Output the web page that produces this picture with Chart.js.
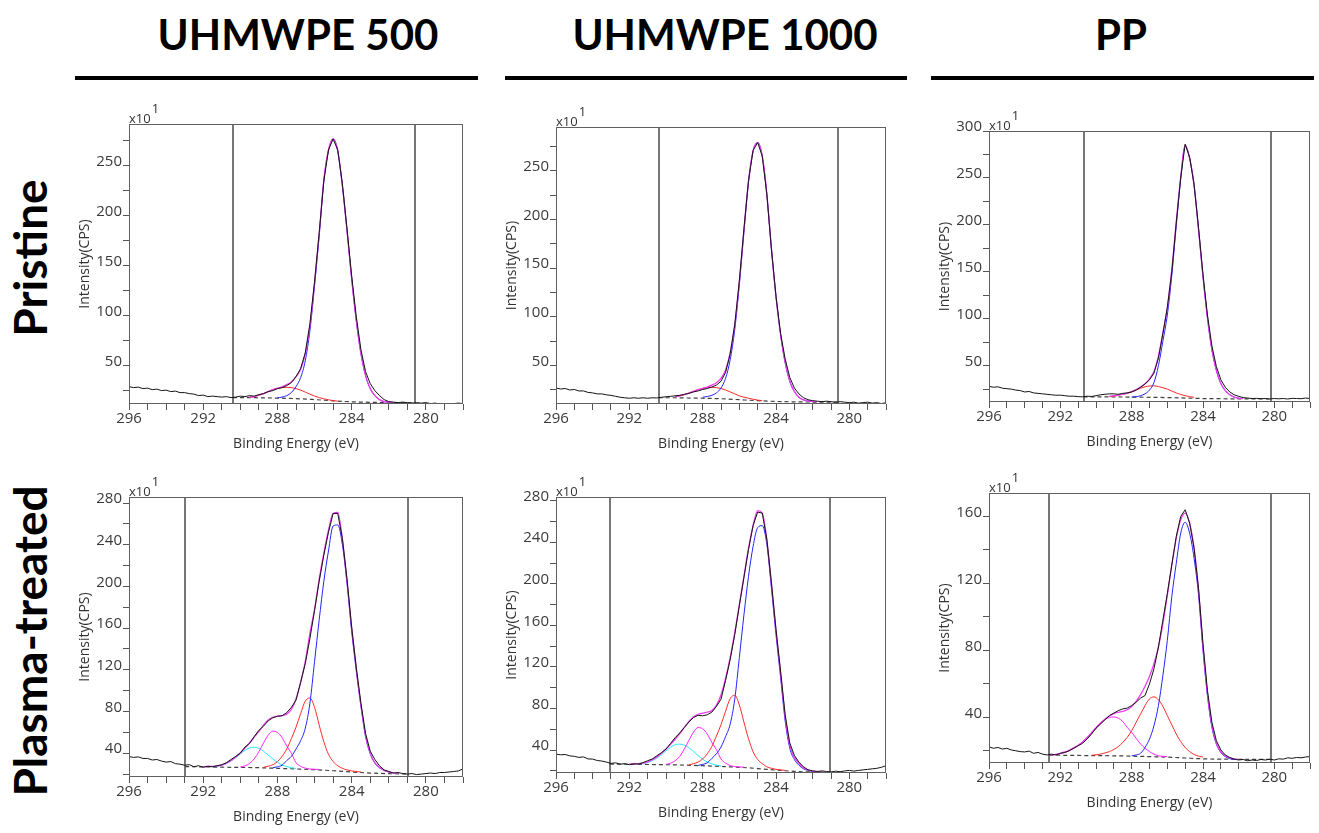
<!DOCTYPE html>
<html>
<head>
<meta charset="utf-8">
<title>XPS C1s spectra</title>
<script src="https://cdn.jsdelivr.net/npm/chart.js@4.4.1/dist/chart.umd.min.js"></script>
<style>
  body { margin: 0; background: #fff; width: 1319px; height: 833px; position: relative; overflow: hidden; }
  .head { position: absolute; top: 13px; font-family: Lato, sans-serif; font-weight: 700; font-size: 42px;
          line-height: 42px; color: #000; transform: translateX(-50%); white-space: nowrap; }
  .rule { position: absolute; top: 76px; height: 4px; background: #000; }
  .side { position: absolute; left: 30px; font-family: Lato, sans-serif; font-weight: 700; font-size: 46px;
          line-height: 46px; color: #000; transform: translate(-50%, -50%) rotate(-90deg); white-space: nowrap; }
  canvas { position: absolute; }
</style>
</head>
<body>
<div class="head" style="left:298px">UHMWPE 500</div>
<div class="head" style="left:725px">UHMWPE 1000</div>
<div class="head" style="left:1121px">PP</div>
<div class="rule" style="left:75px;width:403px"></div>
<div class="rule" style="left:505px;width:402px"></div>
<div class="rule" style="left:931px;width:383px"></div>
<div class="side" style="top:258px">Pristine</div>
<div class="side" style="top:641px">Plasma-treated</div>

<script>
const _ = null;

// binding energy grids (eV)
const energyRaw = [296, 295.75, 295.5, 295.25, 295, 294.75, 294.5, 294.25, 294, 293.75, 293.5, 293.25,
  293, 292.75, 292.5, 292.25, 292, 291.75, 291.5, 291.25, 291, 290.75, 290.5, 290.25,
  290, 289.75, 289.5, 289.25, 289, 288.75, 288.5, 288.25, 288, 287.75, 287.5, 287.25,
  287, 286.75, 286.5, 286.25, 286, 285.75, 285.5, 285.25, 285, 284.75, 284.5, 284.25,
  284, 283.75, 283.5, 283.25, 283, 282.75, 282.5, 282.25, 282, 281.75, 281.5, 281.25,
  281, 280.75, 280.5, 280.25, 280, 279.75, 279.5, 279.25, 279, 278.75, 278.5, 278.25, 278];
const energyFit = [293, 292.75, 292.5, 292.25, 292, 291.75, 291.5, 291.25, 291, 290.75, 290.5, 290.25,
  290, 289.75, 289.5, 289.25, 289, 288.75, 288.5, 288.25, 288, 287.75, 287.5, 287.25,
  287, 286.75, 286.5, 286.25, 286, 285.75, 285.5, 285.25, 285, 284.75, 284.5, 284.25,
  284, 283.75, 283.5, 283.25, 283, 282.75, 282.5, 282.25, 282, 281.75, 281.5, 281.25, 281];
const xTickLabels = [296, 292, 288, 284, 280];

// ---- UHMWPE 500, pristine (counts x10) ----
const raw1 = [29, 28, 28.5, 27, 27.5, 26, 26.5, 25, 25.5, 24, 24.5, 23,
  23, 22, 21.5, 20, 20.5, 19, 19.5, 19, 18.5, 19, 18, 18.5,
  19.5, 19, 20, 19.5, 21, 22, 24, 25, 27, 28, 30, 33,
  39, 47, 63, 92, 134, 183, 235, 266, 277, 266, 232, 187,
  140, 99, 66, 44, 32, 25, 20, 16, 14, 13.5, 13, 13.5,
  13, 12.5, 13, 12.5, 13, 12, 12.5, 11.5, 12, 11, 12, 12.5, 12];
const env1 = [_, _, _, _, _, _, _, _, _, _, _, _,
  _, _, 18.5, 19, 20.5, 22, 24, 26, 27.4, 28.7, 31, 33.7,
  39, 46.5, 62, 90, 133, 182, 236, 266, 277, 265, 230, 185,
  137, 95, 62, 40, 27, 20, 16, 14, 13.5, 13.2, _, _, _];
const blue1 = [_, _, _, _, _, _, _, _, _, _, _, _,
  _, _, _, _, _, _, _, _, 17.8, 18.5, 20, 23,
  29, 38, 55, 85, 130, 180, 235, 265, 277, 265, 230, 185,
  137, 95, 62, 40, 27, 20, 16, 14, 13.5, _, _, _, _];
const red1 = [_, _, _, _, _, _, _, _, _, _, _, _,
  _, _, 18.5, 19, 20.5, 22, 24, 25.8, 27.2, 28, 28.3, 28,
  27, 25.5, 23.5, 21.5, 19.5, 18, 16.8, 15.8, 15, 14.5, _, _,
  _, _, _, _, _, _, _, _, _, _, _, _, _];
const bgEnergy1 = [290.4, 289.5, 289, 288, 287, 286, 285, 284, 283, 282, 280.6];
const bg1 = [18, 18, 17.8, 17.5, 17, 16, 14.8, 13.8, 13.3, 13, 12.8];
const fit1 = [290.4, 280.6];

// ---- UHMWPE 1000, pristine ----
const raw2 = [27, 26, 26.5, 25, 25.5, 24, 24, 22.5, 22, 21, 21, 20,
  19.5, 18.5, 17.5, 17, 16.5, 17, 16.5, 17, 16.5, 17, 16.8, 17.5,
  18, 18.5, 19, 19.5, 20.5, 21.5, 23, 24, 25.5, 26.5, 28, 30,
  34, 43, 62, 92, 137, 190, 240, 271, 279, 265, 226, 170,
  121, 83, 57, 38, 27, 21, 17, 15, 14, 13.5, 13, 13.5,
  13, 12.5, 13, 12.5, 12, 12.5, 11.5, 12, 12.5, 11.5, 12, 11, 12];
const env2 = [_, _, _, _, _, _, _, _, _, _, _, _,
  _, _, 18.3, 18.9, 20.3, 21.8, 23.6, 25.3, 26.7, 28, 30, 32.5,
  37, 45.5, 63, 92, 136, 189, 239.5, 270.5, 279, 265, 226, 170,
  121, 82, 53, 34, 23.5, 17.5, 14.8, 13.7, 13.3, 13, _, _, _];
const blue2 = [_, _, _, _, _, _, _, _, _, _, _, _,
  _, _, _, _, _, _, _, _, 17.5, 18.3, 19.5, 22,
  27, 37, 56, 87, 133, 187, 238, 270, 279, 265, 226, 170,
  121, 82, 53, 34, 23.5, 17.5, 14.8, 13.7, 13.3, _, _, _, _];
const red2 = [_, _, _, _, _, _, _, _, _, _, _, _,
  _, _, 18.3, 18.9, 20.3, 21.8, 23.6, 25.3, 26.7, 27.4, 27.7, 27.4,
  26.5, 25, 23, 21, 19, 17.6, 16.5, 15.5, 14.6, 14, _, _,
  _, _, _, _, _, _, _, _, _, _, _, _, _];
const bgEnergy2 = [290.4, 289.5, 289, 288, 287, 286, 285, 284, 283, 282, 280.6];
const bg2 = [17, 17, 16.8, 16.5, 16, 15, 14, 13.2, 12.8, 12.6, 12.5];
const fit2 = [290.4, 280.6];

// ---- PP, pristine ----
const raw3 = [28, 27, 27.5, 26, 25.5, 25, 24, 23.5, 22, 22.5, 21, 20.5,
  20, 19.5, 19, 18.5, 18.6, 18, 17.5, 17.5, 17, 16.8, 17.5, 17.2,
  18, 19, 19.5, 20, 20, 19.5, 20.5, 21, 22, 24, 27, 30.5,
  35, 42, 58, 84, 112, 150, 202, 250, 286, 272, 243, 197,
  147, 104, 71, 49, 35, 27, 22, 19, 17.3, 16, 15.5, 15,
  15.2, 14.8, 15, 14.5, 15, 14.7, 15, 14.5, 15.2, 15, 14.8, 15.5, 15];
const env3 = [_, _, _, _, _, _, _, _, _, _, _, _,
  _, _, _, 17.5, 18, 18.8, 19.7, 20.7, 22.3, 24.6, 27.3, 30.7,
  36, 43.8, 60, 85, 112, 152, 203, 251, 285, 271, 242, 195,
  145, 101, 67, 45, 31, 23.5, 19, 16.5, 15.5, 15, _, _, _];
const blue3 = [_, _, _, _, _, _, _, _, _, _, _, _,
  _, _, _, _, _, _, _, _, 16.5, 17, 18, 20,
  24, 32, 50, 76, 104, 146, 199, 249, 284, 271, 242, 195,
  145, 101, 67, 45, 31, 23.5, 19, 16.5, 15.5, _, _, _, _];
const red3 = [_, _, _, _, _, _, _, _, _, _, _, _,
  _, _, _, 17, 17.5, 18.5, 19.5, 20.5, 22, 24, 26, 27.5,
  28.4, 28.5, 27.8, 26.5, 25, 23, 21, 19.3, 18, 17, 16.3, _,
  _, _, _, _, _, _, _, _, _, _, _, _, _];
const bgEnergy3 = [290.7, 290, 289, 288, 287, 286, 285, 284, 283, 282, 280.2];
const bg3 = [16.8, 16.8, 16.7, 16.5, 16.3, 16, 15.5, 15, 14.8, 14.6, 14.5];
const fit3 = [290.7, 280.2];

// ---- UHMWPE 500, plasma-treated ----
const raw4 = [36.8, 36, 36.5, 35, 35, 33.5, 34, 32.5, 31.5, 32, 30, 29.5,
  28.5, 29, 27, 28, 26.5, 27.5, 27, 28, 29, 31, 34, 37,
  40, 46, 49.5, 56, 62, 66, 71, 74, 75.5, 76, 79, 84,
  91, 108, 126, 150, 177, 205, 230, 252, 270, 270, 246, 207,
  161, 122, 88, 59, 42, 34, 28, 24, 22.5, 21, 21.5, 20.5,
  20, 20.5, 19.5, 20, 20.5, 21, 20.5, 21.5, 21.5, 22, 22.5, 23, 25];
const env4 = [_, _, _, _, 27.2, 27.3, 27.4, 27.8, 28.6, 30.5, 33, 36.5,
  40.5, 45, 50, 55.5, 61, 67, 72, 74.5, 75.5, 76, 77.5, 82,
  92, 108, 128, 155, 178, 207, 232, 254, 270, 271, 245, 205,
  160, 121, 86, 57, 40, 31, 26.5, 23.5, 22, 21.2, 20.8, _, _];
const blue4 = [_, _, _, _, _, _, _, _, _, _, _, _,
  _, _, _, _, _, _, _, 26, 27, 28.5, 33, 37,
  44, 52, 64, 88, 128, 168, 205, 234, 258, 259, 240, 203,
  157, 119, 85, 56, 39.5, 30.5, 26, 23.5, 22, 21.3, _, _, _];
const red4 = [_, _, _, _, _, _, _, _, _, _, _, _,
  _, _, _, _, _, 26.5, 27.5, 29, 32, 37, 44, 54,
  65, 78, 90, 93, 84, 67, 51, 39, 32, 28, 25.5, 24,
  23, 22.5, 22, _, _, _, _, _, _, _, _, _, _];
const magenta4 = [_, _, _, _, _, _, _, _, _, _, _, _,
  26.8, 27.9, 30.2, 34.6, 41.5, 49.8, 57.3, 61.2, 60, 55, 47, 40,
  31, 27.4, 25.7, 24.9, 24.6, 24.4, _, _, _, _, _, _,
  _, _, _, _, _, _, _, _, _, _, _, _, _];
const cyan4 = [_, _, _, _, _, _, 27.1, 27.5, 28.5, 30.1, 32.5, 35.7,
  39.3, 42.7, 45, 45.8, 44.6, 41.9, 38.3, 34.6, 31.3, 28.8, 27.2, 26.2,
  25.4, _, _, _, _, _, _, _, _, _, _, _,
  _, _, _, _, _, _, _, _, _, _, _, _, _];
const bgEnergy4 = [292.97, 292, 291, 290, 289, 288, 287, 286, 285, 284, 283, 282, 280.96];
const bg4 = [27.2, 26.9, 26.6, 26.4, 26.1, 25.5, 24.9, 24.2, 23.2, 22, 21, 20.4, 20.2];
const fit4 = [292.97, 280.96];

// ---- UHMWPE 1000, plasma-treated ----
const raw5 = [36.2, 35.5, 35.8, 34.5, 34, 33, 33.5, 31.5, 31.4, 30, 29.5, 28.5,
  27.2, 27.8, 26.5, 27, 26, 26.8, 26.6, 28, 29.8, 31.5, 34.6, 37.5,
  41, 46.5, 52, 56.5, 61.8, 67, 71.4, 73.5, 73, 74, 76.5, 82,
  89, 107, 127, 151, 179, 206, 233, 256, 269, 268, 243, 201,
  156, 116, 74, 47, 35, 28.5, 24, 21, 20, 19.5, 20, 19.5,
  19, 19.8, 19.2, 20, 20.5, 19.8, 20.5, 21, 21.5, 22, 22.5, 23.5, 25];
const env5 = [_, _, _, _, 26.7, 26.8, 27, 27.6, 28.8, 30.8, 33.5, 37,
  41, 45.5, 50.5, 56, 61.8, 67.5, 72, 74.5, 75.5, 76.5, 78, 83,
  93, 109, 129, 153, 180, 207, 234, 256, 270.4, 268, 242, 200,
  155, 114, 72, 45, 33, 27.5, 23, 21, 19.8, 19.2, 19, _, _];
const blue5 = [_, _, _, _, _, _, _, _, _, _, _, _,
  _, _, _, _, _, _, _, 25.3, 26.3, 27.8, 32, 36.5,
  43, 53, 65, 89, 129, 170, 207, 236, 254, 256, 238, 196,
  151, 110, 68, 42, 31, 25.5, 22, 20.5, 19.4, 19, _, _, _];
const red5 = [_, _, _, _, _, _, _, _, _, _, _, _,
  _, _, _, _, _, 25.8, 27, 28.5, 31.5, 36.5, 43.5, 53.5,
  64.5, 77.5, 89.5, 92.8, 83.5, 67, 51, 38.5, 31, 27, 24, 22.5,
  21.5, 21, 20.5, _, _, _, _, _, _, _, _, _, _];
const magenta5 = [_, _, _, _, _, _, _, _, _, _, _, _,
  26.3, 27.4, 29.8, 34, 41, 49.5, 57.3, 61.7, 60.5, 55.5, 47.5, 40.5,
  31.5, 27.5, 25.2, 24.2, 23.8, 23.6, _, _, _, _, _, _,
  _, _, _, _, _, _, _, _, _, _, _, _, _];
const cyan5 = [_, _, _, _, _, _, 26.8, 27.2, 28.2, 29.8, 32.3, 35.6,
  39.3, 42.8, 45.2, 45.8, 44.8, 42.2, 38.6, 34.8, 31.3, 28.6, 26.8, 25.6,
  24.8, _, _, _, _, _, _, _, _, _, _, _,
  _, _, _, _, _, _, _, _, _, _, _, _, _];
const bgEnergy5 = [293.06, 292, 291, 290, 289, 288, 287, 286, 285, 284, 283, 282, 281.06];
const bg5 = [26.6, 26.4, 26.2, 26, 25.6, 25, 24.3, 23.5, 22.3, 20.8, 19.6, 18.9, 18.6];
const fit5 = [293.06, 281.06];

// ---- PP, plasma-treated ----
const raw6 = [22.3, 21.5, 22, 21, 21.5, 20.5, 20, 19.5, 19.3, 19.8, 18.5, 19,
  18, 17.5, 18, 17.5, 18.5, 19, 20, 21.5, 23, 24.5, 27, 30,
  33.5, 36, 38.5, 41, 42.5, 44, 45, 45.5, 47, 49, 51.5, 53,
  60, 69, 82, 98, 114, 131, 148, 160, 164, 156, 141, 117,
  84, 56, 37, 26, 20.5, 17.5, 16, 15, 14.5, 14.8, 14, 14.5,
  14.2, 14.8, 14.5, 15, 14.5, 15.2, 15, 15.8, 15.5, 16, 15.8, 16.3, 16.5];
const env6 = [_, _, 17.5, 17.8, 18.5, 19.3, 20.3, 21.8, 23.3, 25.3, 27.8, 30.6,
  33.5, 36.3, 38.8, 40.8, 42.2, 43, 43.6, 44.5, 46.5, 49.5, 53.5, 58.5,
  64.5, 72, 82, 96, 113, 131, 147, 158, 162, 156, 141, 116,
  82, 54, 35, 24.5, 19.5, 17, 15.8, 15.2, 14.9, _, _, _, _];
const blue6 = [_, _, _, _, _, _, _, _, _, _, _, _,
  _, _, _, _, _, _, _, _, 17, 17.5, 18.5, 22,
  27, 35, 47, 65, 86, 112, 132, 150, 156.5, 150, 135, 113,
  80, 53, 34, 24, 19, 16.5, 15.3, 14.8, _, _, _, _, _];
const red6 = [_, _, _, _, _, _, _, _, _, _, _, 17.3,
  17.6, 18, 18.7, 19.5, 20.8, 22.5, 25, 28, 32, 37, 42, 47,
  51, 52.2, 50.5, 46.5, 41, 35.5, 30, 25.5, 22, 19.5, 17.8, 16.8,
  16.2, _, _, _, _, _, _, _, _, _, _, _, _];
const magenta6 = [_, _, 17.5, 17.8, 18.3, 19, 20, 21.5, 23.2, 25.5, 28, 31,
  34, 36.7, 38.7, 39.9, 40.2, 39.5, 37.5, 34, 31, 27.5, 24, 21.5,
  19.5, 18, 17, 16.7, 16.5, _, _, _, _, _, _, _,
  _, _, _, _, _, _, _, _, _, _, _, _, _];
const bgEnergy6 = [292.62, 291, 290, 289, 288, 287, 286, 285, 284, 283, 282, 280.18];
const bg6 = [17.4, 17.2, 17.1, 17, 16.8, 16.5, 16.2, 15.7, 15.2, 15, 14.9, 14.8];
const fit6 = [292.62, 280.18];

const RAW = '#141414', ENVELOPE = '#f03cf0', BLUE = '#2323ff', RED = '#ff2a2a',
      MAGENTA = '#ff22ff', CYAN = '#22e8ff', BACKGROUND = '#404040';

// plot rectangle [left, top, right, bottom] in page pixels and y axis [min, max, labelled step]
const panels = [
  { rect: [129, 124, 463, 404], y: [11.6, 292, 50], raw: raw1, env: env1,
    parts: [[blue1, BLUE], [red1, RED]], bgE: bgEnergy1, bg: bg1, fit: fit1 },
  { rect: [556, 127, 886, 404], y: [10.6, 295, 50], raw: raw2, env: env2,
    parts: [[blue2, BLUE], [red2, RED]], bgE: bgEnergy2, bg: bg2, fit: fit2 },
  { rect: [989, 131, 1310, 402], y: [11.3, 300, 50], raw: raw3, env: env3,
    parts: [[blue3, BLUE], [red3, RED]], bgE: bgEnergy3, bg: bg3, fit: fit3 },
  { rect: [129, 497, 463, 777], y: [17.2, 285.8, 40], raw: raw4, env: env4,
    parts: [[blue4, BLUE], [red4, RED], [magenta4, MAGENTA], [cyan4, CYAN]], bgE: bgEnergy4, bg: bg4, fit: fit4 },
  { rect: [556, 497, 886, 773], y: [18, 283.5, 40], raw: raw5, env: env5,
    parts: [[blue5, BLUE], [red5, RED], [magenta5, MAGENTA], [cyan5, CYAN]], bgE: bgEnergy5, bg: bg5, fit: fit5 },
  { rect: [989, 493, 1310, 763], y: [12.7, 174, 40], raw: raw6, env: env6,
    parts: [[blue6, BLUE], [red6, RED], [magenta6, MAGENTA]], bgE: bgEnergy6, bg: bg6, fit: fit6 }
];

Chart.defaults.font.family = '"Open Sans", sans-serif';
Chart.defaults.font.size = 14;
Chart.defaults.color = '#333';

// fit-window markers, plot frame and the x10^1 multiplier
const panelFrame = {
  id: 'panelFrame',
  beforeDatasetsDraw(chart, args, opts) {
    const { ctx, chartArea: a, scales: { x } } = chart;
    ctx.save();
    ctx.strokeStyle = '#4a4a4a';
    ctx.lineWidth = 1.5;
    opts.fit.forEach(e => {
      const px = Math.round(x.getPixelForValue(e));
      ctx.beginPath();
      ctx.moveTo(px, a.top);
      ctx.lineTo(px, a.bottom);
      ctx.stroke();
    });
    ctx.restore();
  },
  afterDraw(chart) {
    const { ctx, chartArea: a } = chart;
    ctx.save();
    ctx.strokeStyle = '#606060';
    ctx.lineWidth = 1;
    ctx.strokeRect(a.left + 0.5, a.top + 0.5, a.right - a.left - 1, a.bottom - a.top - 1);
    ctx.fillStyle = '#333';
    ctx.textBaseline = 'alphabetic';
    ctx.font = '13px "Open Sans"';
    ctx.fillText('x10', a.left, a.top - 1);
    const w = ctx.measureText('x10').width;
    ctx.font = '13px "Open Sans"';
    ctx.fillText('1', a.left + w + 1, a.top - 11);
    ctx.restore();
  }
};

function points(energies, values) {
  return energies.map((e, i) => ({ x: e, y: values[i] }));
}

function curve(energies, values, color, width, extra) {
  return Object.assign({
    data: points(energies, values),
    borderColor: color,
    borderWidth: width,
    pointRadius: 0,
    fill: false,
    cubicInterpolationMode: 'monotone'
  }, extra || {});
}

panels.forEach(p => {
  const [L, T, R, B] = p.rect;
  const [yMin, yMax, yStep] = p.y;
  const canvas = document.createElement('canvas');
  canvas.width = R - L + 68;
  canvas.height = B - T + 86;
  canvas.style.left = (L - 60) + 'px';
  canvas.style.top = (T - 28) + 'px';
  document.body.appendChild(canvas);

  const datasets = [
    { data: points(energyRaw, p.raw), borderColor: RAW, borderWidth: 1, pointRadius: 0, fill: false, tension: 0 },
    curve(energyFit, p.env, ENVELOPE, 1.3),
    ...p.parts.map(([vals, col]) => curve(energyFit, vals, col, 1)),
    curve(p.bgE, p.bg, BACKGROUND, 1.2, { borderDash: [4, 3] })
  ];

  new Chart(canvas, {
    type: 'line',
    data: { datasets },
    plugins: [panelFrame],
    options: {
      responsive: false,
      animation: false,
      devicePixelRatio: 1,
      events: [],
      layout: { padding: { top: 28, right: 8, left: 0, bottom: 0 } },
      plugins: {
        legend: { display: false },
        tooltip: { enabled: false },
        panelFrame: { fit: p.fit }
      },
      scales: {
        x: {
          type: 'linear',
          reverse: true,
          min: 278,
          max: 296,
          afterFit: s => { s.height = 58; },
          border: { display: false },
          grid: { drawOnChartArea: false, tickLength: 6, color: '#555' },
          ticks: {
            stepSize: 1, autoSkip: false, maxRotation: 0, padding: 0,
            font: { size: 15 }, color: '#3a3a3a',
            callback: v => xTickLabels.includes(v) ? String(v) : ''
          },
          title: { display: true, text: 'Binding Energy (eV)', padding: { top: 0, bottom: 10 } }
        },
        y: {
          type: 'linear',
          min: yMin,
          max: yMax,
          afterFit: s => { s.width = 60; },
          border: { display: false },
          grid: { drawOnChartArea: false, tickLength: 6, color: '#555' },
          ticks: {
            stepSize: yStep / 2, includeBounds: false, autoSkip: false, padding: 1, labelOffset: -4,
            font: { size: 15 }, color: '#3a3a3a',
            callback: v => v % yStep === 0 ? String(v) : ''
          },
          title: { display: true, text: 'Intensity(CPS)', padding: { top: 7.6, bottom: 0 } }
        }
      }
    }
  });
});
</script>
</body>
</html>
